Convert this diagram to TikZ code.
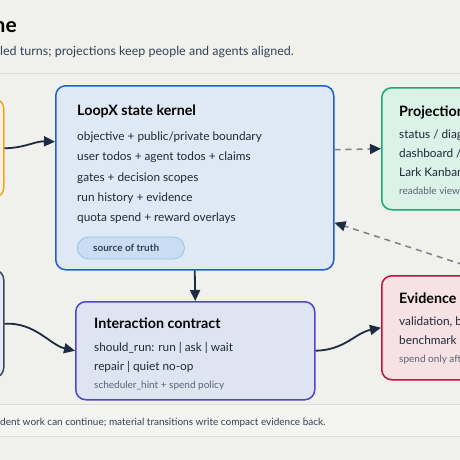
\documentclass[tikz,border=0pt]{standalone}
\usepackage{fontspec}
\setmainfont{Lato}
\usetikzlibrary{arrows.meta}
\definecolor{bgc}{HTML}{F0F0EC}
\definecolor{bandc}{HTML}{F4F4F1}
\definecolor{rulec}{HTML}{DCDCD8}
\definecolor{inkc}{HTML}{1F2937}
\definecolor{subc}{HTML}{334155}
\definecolor{mutedc}{HTML}{5B6472}
\definecolor{arrowc}{HTML}{1E2B45}
\definecolor{dashc}{HTML}{7C828B}
\definecolor{kerfill}{HTML}{DFE9F5}
\definecolor{kerdraw}{HTML}{1D5FD6}
\definecolor{pillfill}{HTML}{C9DEF3}
\definecolor{pilldraw}{HTML}{9CC2E8}
\definecolor{profill}{HTML}{DAF2E7}
\definecolor{prodraw}{HTML}{14AE74}
\definecolor{evifill}{HTML}{F6E1E4}
\definecolor{evidraw}{HTML}{C8103E}
\definecolor{intfill}{HTML}{DFE4F3}
\definecolor{intdraw}{HTML}{5046C8}
\definecolor{orgfill}{HTML}{FBF1DA}
\definecolor{orgdraw}{HTML}{F5A524}
\definecolor{slfill}{HTML}{E8EAF0}
\definecolor{sldraw}{HTML}{3B4566}
\begin{document}
\begin{tikzpicture}[x=1pt,y=-1pt,
  box/.style={line width=1.5pt, rounded corners=10pt, anchor=north west, inner sep=0pt},
  ttl/.style={anchor=base west, inner sep=0pt, font=\fontsize{14.3}{17}\selectfont\bfseries, text=black},
  body/.style={anchor=base west, inner sep=0pt, font=\fontsize{11.8}{14}\selectfont, text=inkc},
  small/.style={anchor=base west, inner sep=0pt, font=\fontsize{10}{12}\selectfont, text=mutedc},
  conn/.style={draw=arrowc, line width=1.8pt, -{Triangle[length=11pt,width=10pt]}},
  dconn/.style={draw=dashc, line width=1.5pt, dash pattern=on 6pt off 5pt, -{Triangle[length=11pt,width=10pt,fill=arrowc,color=arrowc]}}
]
\useasboundingbox (0,0) rectangle (460,460);
\clip (0,0) rectangle (460,460);
\fill[bgc] (0,0) rectangle (460,460);
% header
\node[anchor=base east, inner sep=0pt, font=\fontsize{21}{24}\selectfont\bfseries, text=black] (title) at (17,33) {ne};
\node[anchor=base west, inner sep=0pt, font=\fontsize{12.5}{15}\selectfont, text=subc] (subtitle) at (0,56) {led turns; projections keep people and agents aligned.};
\draw[rulec, line width=0.8pt] (0,73) -- (460,73);
% footer band
\fill[bandc] (0,404) rectangle (460,436);
\draw[rulec, line width=0.8pt] (0,404) -- (460,404);
\draw[rulec, line width=0.8pt] (0,436) -- (460,436);
\node[anchor=base west, inner sep=0pt, font=\fontsize{10}{12}\selectfont, text=subc] (footer) at (0,425.5) {dent work can continue; material transitions write compact evidence back.};
% boxes
\node[box, draw=orgdraw, fill=orgfill, minimum width=120pt, minimum height=99pt] (ctx) at (-117,98) {};
\node[box, draw=sldraw, fill=slfill, minimum width=120pt, minimum height=108pt] (left2) at (-117,269) {};
\node[box, draw=kerdraw, fill=kerfill, minimum width=278pt, minimum height=184pt] (kernel) at (55,85) {};
\node[box, draw=prodraw, fill=profill, minimum width=160pt, minimum height=122pt] (proj) at (381,87) {};
\node[box, draw=evidraw, fill=evifill, minimum width=160pt, minimum height=104pt] (evid) at (381,275) {};
\node[box, draw=intdraw, fill=intfill, minimum width=239pt, minimum height=98pt] (inter) at (75,301) {};
% kernel text
\node[ttl] (kt) at (77,115.5) {LoopX state kernel};
\node[body] (k1) at (77,140.5) {objective + public/private boundary};
\node[body] (k2) at (77,160.8) {user todos + agent todos + claims};
\node[body] (k3) at (77,181.1) {gates + decision scopes};
\node[body] (k4) at (77,201.4) {run history + evidence};
\node[body] (k5) at (77,221.7) {quota spend + reward overlays};
\node[draw=pilldraw, fill=pillfill, line width=0.8pt, rounded corners=11pt, minimum width=107pt, minimum height=22pt, inner sep=0pt, anchor=west] (pill) at (77,248) {};
\node[anchor=base west, inner sep=0pt, font=\fontsize{10}{11}\selectfont\bfseries, text=subc] (pilltext) at (93,251.5) {source of truth};
% projections text
\node[ttl] (pt) at (399,116) {Projections};
\node[body] (p1) at (399,138.5) {status / diagnostics};
\node[body] (p2) at (399,157.5) {dashboard / board};
\node[body] (p3) at (399,176) {Lark Kanban};
\node[small] (p4) at (399,194.5) {readable views};
% evidence text
\node[ttl] (et) at (399,303) {Evidence + reward};
\node[body] (e1) at (399,325.5) {validation, benchmark};
\node[body] (e2) at (399,344.5) {benchmark + review};
\node[small] (e3) at (399,362.5) {spend only after evidence};
% interaction text
\node[ttl] (it) at (94,328) {Interaction contract};
\node[body] (i1) at (94,351.5) {should\_run: run | ask | wait};
\node[body] (i2) at (94,370) {repair | quiet no-op};
\node[small] (i3) at (94,388.5) {scheduler\_hint + spend policy};
% connectors
\coordinate (kin) at ([yshift=36pt]kernel.west);
\coordinate (kout) at ([yshift=28pt]kernel.east);
\coordinate (kback) at ([yshift=-45pt]kernel.east);
\coordinate (eout) at ([xshift=33pt]evid.north);
\draw[conn] (ctx.east) .. controls (25,148) and (35,141) .. (kin);
\draw[dconn] (kout) -- (proj.west);
\draw[dconn] (eout) -- (kback);
\draw[conn] (kernel.south) -- (inter.north);
\draw[conn] (left2.east) .. controls (35,322) and (50,345) .. (inter.west);
\draw[conn] (inter.east) .. controls (345,350) and (355,333) .. (evid.west);
\end{tikzpicture}
\end{document}
